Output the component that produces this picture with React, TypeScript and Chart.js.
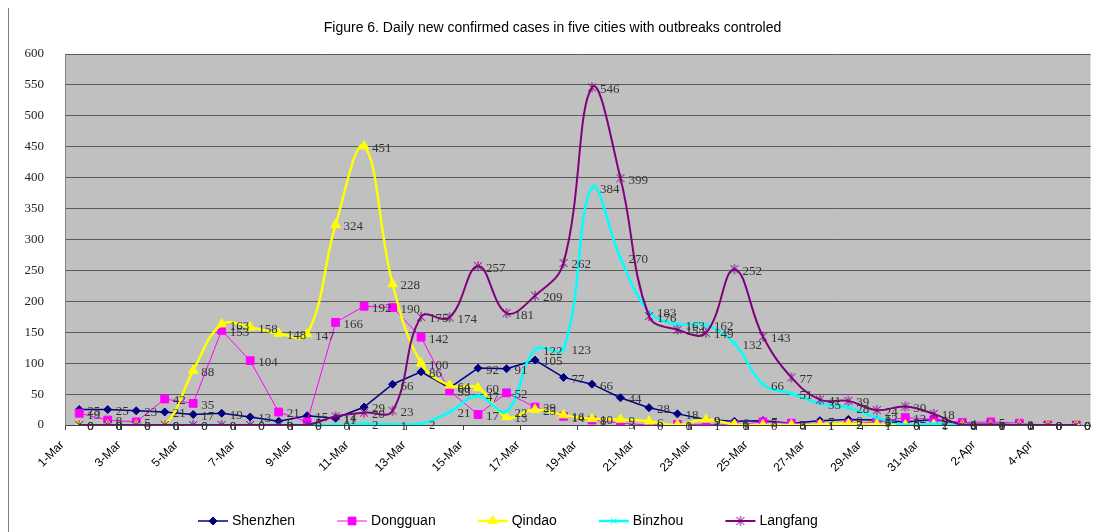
import React, { useEffect, useRef } from 'react';
import { Chart, registerables } from 'chart.js';
import { drawPoint } from 'chart.js/helpers';

Chart.register(...registerables);

const TITLE = 'Figure 6. Daily new confirmed cases in five cities with outbreaks controled';

const DATES = [
  '1-Mar', '2-Mar', '3-Mar', '4-Mar', '5-Mar', '6-Mar', '7-Mar', '8-Mar', '9-Mar', '10-Mar',
  '11-Mar', '12-Mar', '13-Mar', '14-Mar', '15-Mar', '16-Mar', '17-Mar', '18-Mar', '19-Mar', '20-Mar',
  '21-Mar', '22-Mar', '23-Mar', '24-Mar', '25-Mar', '26-Mar', '27-Mar', '28-Mar', '29-Mar', '30-Mar',
  '31-Mar', '1-Apr', '2-Apr', '3-Apr', '4-Apr', '5-Apr',
];

const SHENZHEN = [25, 25, 23, 21, 17, 19, 13, 6, 15, 11, 29, 66, 86, 60, 92, 91, 105, 77, 66, 44, 28, 18, 9, 6, 7, 3, 7, 9, 8, 5, 9, 2, 1, 1, 0, 0];
const DONGGUAN = [19, 8, 5, 42, 35, 153, 104, 21, 5, 166, 192, 190, 142, 55, 17, 52, 29, 14, 8, 3, 0, 1, 1, 0, 5, 3, 1, 2, 5, 12, 9, 4, 5, 3, 0, 0];
const QINDAO = [0, 0, 0, 0, 88, 163, 158, 148, 147, 324, 451, 228, 100, 64, 60, 13, 25, 16, 10, 9, 6, 0, 9, 1, 0, 0, 1, 2, 1, 0, 1, 0, 0, 0, 0, 0];
const BINZHOU = [0, 0, 0, 0, 0, 0, 0, 0, 0, 0, 2, 1, 2, 21, 47, 22, 122, 123, 384, 270, 183, 163, 162, 132, 66, 51, 35, 28, 12, 0, 2, 0, 0, 0, 0, 0];
const LANGFANG = [0, 0, 0, 0, 0, 0, 0, 0, 0, 14, 20, 23, 175, 174, 257, 181, 209, 262, 546, 399, 176, 154, 149, 252, 143, 77, 41, 39, 24, 30, 18, 0, 1, 0, 0, 0];

const Y_MIN = 0;
const Y_MAX = 600;
const Y_STEP = 50;
const X_LABEL_EVERY = 2;

function makeStar(color: string, r: number): HTMLCanvasElement {
  const size = Math.ceil(r * 2 + 2);
  const c = document.createElement('canvas');
  c.width = size;
  c.height = size;
  const g = c.getContext('2d')!;
  g.strokeStyle = color;
  g.lineWidth = 1;
  const m = size / 2;
  const d = r * 0.8;
  g.beginPath();
  g.moveTo(m - d, m - d); g.lineTo(m + d, m + d);
  g.moveTo(m + d, m - d); g.lineTo(m - d, m + d);
  g.moveTo(m, m - r); g.lineTo(m, m + r);
  g.stroke();
  return c;
}

const plotBg = {
  id: 'plotBg',
  beforeDraw(chart: any) {
    const { ctx, chartArea: a } = chart;
    ctx.save();
    ctx.fillStyle = '#C0C0C0';
    ctx.fillRect(a.left, a.top, a.right - a.left, a.bottom - a.top);
    ctx.restore();
  },
};

const pointLabels = {
  id: 'pointLabels',
  afterDatasetsDraw(chart: any) {
    const ctx = chart.ctx;
    ctx.save();
    ctx.font = '13px "Liberation Serif"';
    ctx.fillStyle = '#333333';
    ctx.textAlign = 'left';
    ctx.textBaseline = 'middle';
    chart.data.datasets.forEach((ds: any, i: number) => {
      const meta = chart.getDatasetMeta(i);
      meta.data.forEach((pt: any, j: number) => {
        ctx.fillText(String(ds.data[j]), pt.x + 8, pt.y + 2);
      });
    });
    ctx.restore();
  },
};

const xlLegend = {
  id: 'xlLegend',
  afterDraw(chart: any) {
    const ctx = chart.ctx;
    ctx.save();
    ctx.font = '14px "Liberation Sans"';
    let x = 190;
    const y = chart.height - 17;
    chart.data.datasets.forEach((ds: any) => {
      ctx.strokeStyle = ds.borderColor;
      ctx.lineWidth = ds.borderWidth;
      ctx.beginPath();
      ctx.moveTo(x, y);
      ctx.lineTo(x + 30, y);
      ctx.stroke();
      ctx.fillStyle = ds.pointBackgroundColor;
      ctx.strokeStyle = ds.pointBorderColor;
      ctx.lineWidth = 1;
      drawPoint(ctx, { pointStyle: ds.pointStyle, radius: ds.pointRadius, rotation: 0, borderWidth: 1 } as any, x + 15, y);
      ctx.fillStyle = '#000000';
      ctx.textAlign = 'left';
      ctx.textBaseline = 'middle';
      ctx.fillText(ds.label, x + 34, y);
      x += 34 + ctx.measureText(ds.label).width + 42;
    });
    ctx.restore();
  },
};

const leftBorder = {
  id: 'leftBorder',
  afterDraw(chart: any) {
    const ctx = chart.ctx;
    ctx.save();
    ctx.strokeStyle = '#7f7f7f';
    ctx.lineWidth = 1;
    ctx.beginPath();
    ctx.moveTo(0.5, 0);
    ctx.lineTo(0.5, chart.height);
    ctx.stroke();
    ctx.restore();
  },
};

export default function App() {
  const ref = useRef<HTMLCanvasElement | null>(null);

  useEffect(() => {
    if (!ref.current) return;
    const star = makeStar('#800080', 5);
    const mk = (label: string, data: number[], color: string, width: number, style: any, radius: number, tension: number, order: number) => ({
      label,
      data,
      borderColor: color,
      backgroundColor: color,
      borderWidth: width,
      pointStyle: style,
      pointRadius: radius,
      pointHoverRadius: radius,
      pointBackgroundColor: color,
      pointBorderColor: color,
      pointBorderWidth: 1,
      tension,
      fill: false,
      order,
    });
    const chart = new Chart(ref.current, {
      type: 'line',
      data: {
        labels: DATES,
        datasets: [
          mk('Shenzhen', SHENZHEN, '#000080', 1.5, 'rectRot', 4, 0, 5),
          mk('Dongguan', DONGGUAN, '#FF00FF', 1, 'rect', 5.5, 0, 4),
          mk('Qindao', QINDAO, '#FFFF00', 2.5, 'triangle', 5.5, 0.4, 3),
          mk('Binzhou', BINZHOU, '#00FFFF', 2.5, 'crossRot', 4, 0.4, 2),
          mk('Langfang', LANGFANG, '#800080', 2, star, 5, 0.4, 1),
        ] as any,
      },
      options: {
        animation: false,
        responsive: true,
        maintainAspectRatio: false,
        layout: { padding: 0 },
        plugins: {
          legend: { display: false },
          tooltip: { enabled: false },
          title: {
            display: true,
            text: TITLE,
            color: '#000000',
            font: { family: '"Liberation Sans"', size: 14, weight: 'normal' },
            padding: { top: 11.6, bottom: 17.6 },
          },
        },
        scales: {
          x: {
            offset: true,
            afterFit: (s: any) => { s.height = 113; },
            border: { display: true, color: '#404040', width: 1 },
            grid: {
              offset: true,
              drawOnChartArea: false,
              drawTicks: true,
              tickLength: 5,
              color: (c: any) => (c.index % X_LABEL_EVERY === 0 ? '#404040' : 'rgba(0,0,0,0)'),
            },
            ticks: {
              autoSkip: false,
              maxRotation: 45,
              minRotation: 45,
              padding: 8,
              labelOffset: -17,
              color: '#000000',
              font: { family: '"Liberation Sans"', size: 12 },
              callback: (_v: any, i: number) => (i % X_LABEL_EVERY === 0 ? DATES[i] : ''),
            },
          },
          y: {
            min: Y_MIN,
            max: Y_MAX,
            afterFit: (s: any) => { s.width = 57; },
            border: { display: true, color: '#808080', width: 1 },
            grid: { color: '#5a5a5a', lineWidth: 1, drawTicks: false },
            ticks: {
              stepSize: Y_STEP,
              padding: 21,
              color: '#222222',
              font: { family: '"Liberation Serif"', size: 13 },
            },
          },
        },
      },
      plugins: [plotBg, pointLabels, xlLegend, leftBorder],
    });
    return () => chart.destroy();
  }, []);

  return (
    <div style={{ position: 'fixed', left: 8, top: 8, width: 1089, height: 530 }}>
      <canvas ref={ref} />
    </div>
  );
}
